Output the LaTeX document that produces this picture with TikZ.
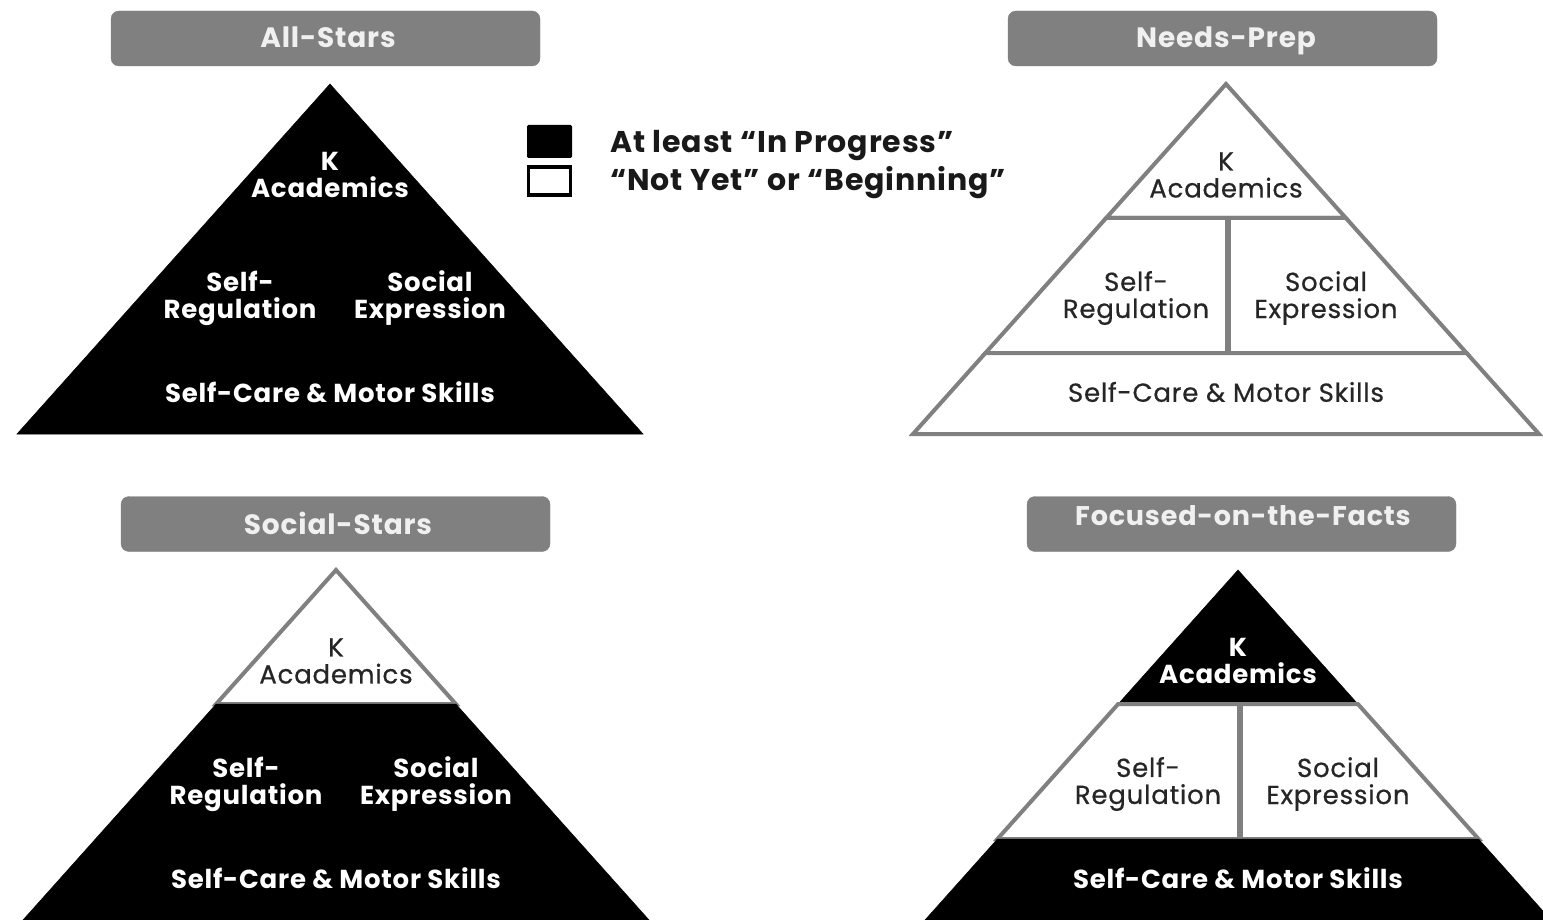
\documentclass[tikz,border=0pt]{standalone}
\usepackage{fontspec}
\setmainfont[LetterSpace=3.0]{Poppins}
\newfontfamily\medfont[FakeBold=0.6,LetterSpace=3.0]{Poppins}
\definecolor{boxgray}{RGB}{128,128,128}
\definecolor{linegray}{RGB}{128,128,128}
\tikzset{
  x=1pt, y=-1pt,
  tierwhite/.style={fill=white, draw=linegray, line width=4pt, line join=miter},
  tierblack/.style={fill=black, draw=black, line width=0.5pt},
  divwhite/.style={draw=linegray, line width=6pt},
  divblack/.style={draw=black, line width=0.5pt},
  txtwhite/.style={text=black!85, align=center, font=\medfont\fontsize{26}{27}\selectfont, inner sep=0pt},
  txtblack/.style={text=white, align=center, font=\fontsize{26}{27}\selectfont\bfseries, inner sep=0pt},
  titlebox/.style={fill=boxgray, draw=boxgray, rounded corners=8pt, minimum width=429pt, minimum height=55pt, inner sep=0pt},
  titletext/.style={text=white!94!black, font=\fontsize{28}{30}\selectfont\bfseries, inner sep=0pt, anchor=base},
  legtext/.style={text=black!90, font=\fontsize{30}{30}\selectfont\bfseries, anchor=base west, inner sep=0pt},
}
% #1 prefix, #2 cx, #3 apex y, #4 top, #5 mid, #6 bottom (white/black)
\newcommand{\pyr}[6]{%
  \pgfmathsetmacro{\pya}{#3}%
  \pgfmathsetmacro{\pyb}{#3+134}%
  \pgfmathsetmacro{\pyc}{#3+269}%
  \pgfmathsetmacro{\pyd}{#3+350}%
  \pgfmathsetmacro{\pwb}{313/350*134}%
  \pgfmathsetmacro{\pwc}{313/350*269}%
  \pgfmathsetmacro{\pxbl}{#2-\pwb}%
  \pgfmathsetmacro{\pxbr}{#2+\pwb}%
  \pgfmathsetmacro{\pxcl}{#2-\pwc}%
  \pgfmathsetmacro{\pxcr}{#2+\pwc}%
  \pgfmathsetmacro{\pxdl}{#2-313}%
  \pgfmathsetmacro{\pxdr}{#2+313}%
  \draw[tier#4] (#2,\pya) -- (\pxbr,\pyb) -- (\pxbl,\pyb) -- cycle;
  \draw[tier#5] (\pxbl,\pyb) -- (\pxbr,\pyb) -- (\pxcr,\pyc) -- (\pxcl,\pyc) -- cycle;
  \draw[div#5] (#2+2,\pyb) -- (#2+2,\pyc);
  \draw[tier#6] (\pxcl,\pyc) -- (\pxcr,\pyc) -- (\pxdr,\pyd) -- (\pxdl,\pyd) -- cycle;
  \node[txt#4] (#1k) at (#2,#3+91) {K\\Academics};
  \node[txt#5] (#1sr) at (#2-90,#3+214) {Self-\\Regulation};
  \node[txt#5] (#1se) at (#2+100,#3+214) {Social\\Expression};
  \node[txt#6] (#1sc) at (#2,#3+308) {Self-Care \& Motor Skills};
}
\begin{document}
\begin{tikzpicture}
\useasboundingbox (0,0) rectangle (1543,920);
\fill[white] (0,0) rectangle (1543,920);

% titles
\node[titlebox] (t1) at (325.5,38.5) {};
\node[titletext] (t1l) at (328,48) {All-Stars};
\node[titlebox] (t2) at (1222.5,38.5) {};
\node[titletext] (t2l) at (1226,48) {Needs-Prep};
\node[titlebox] (t3) at (335.5,524) {};
\node[titletext] (t3l) at (338,534) {Social-Stars};
\node[titlebox] (t4) at (1241.5,524) {};
\node[titletext, font=\fontsize{27}{30}\selectfont\bfseries] (t4l) at (1243,525) {Focused-on-the-Facts};

% pyramids
\pyr{a}{330}{84}{black}{black}{black}
\pyr{b}{1226}{84}{white}{white}{white}
\pyr{c}{336}{570}{white}{black}{black}
\pyr{d}{1238}{570}{black}{white}{black}

% legend
\node[fill=black, draw=black, line width=1pt, rounded corners=1pt, minimum width=44pt, minimum height=32pt, inner sep=0pt] (lb) at (549.5,141.5) {};
\node[fill=white, draw=black, line width=3.5pt, minimum width=42pt, minimum height=28pt, inner sep=0pt] (lw) at (549.5,181) {};
\node[legtext] (lbt) at (610,153) {At least “In Progress”};
\node[legtext] (lwt) at (610,191) {“Not Yet” or “Beginning”};
\end{tikzpicture}
\end{document}
